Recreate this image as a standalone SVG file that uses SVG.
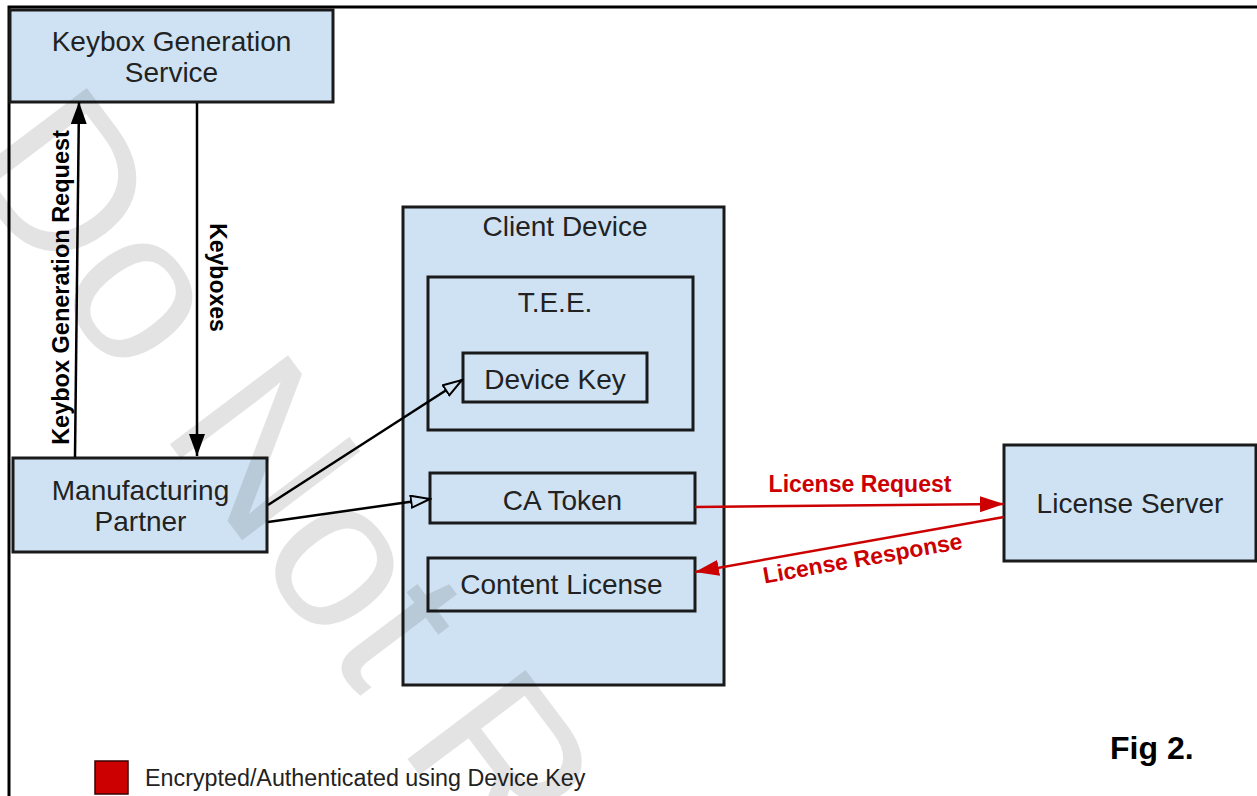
<svg xmlns="http://www.w3.org/2000/svg" width="1257" height="796" viewBox="0 0 1257 796">
<style>
  .box { fill: #cfe2f3; stroke: #1a1a1a; stroke-width: 3; }
  .lbl { font-family: "Liberation Sans", Arial, sans-serif; font-size: 28px; fill: #222; text-anchor: middle; }
  .bold { font-family: "Liberation Sans", Arial, sans-serif; font-weight: bold; text-anchor: middle; }
  .blk { fill: none; stroke: #000; stroke-width: 2.5; }
  .red { fill: none; stroke: #cc0000; stroke-width: 2.5; }
</style>
<defs>
  <marker id="arrowBlack" markerUnits="userSpaceOnUse" markerWidth="22" markerHeight="16" refX="22" refY="8" orient="auto">
    <path d="M0,0 L22,8 L0,16 z" fill="#000"/>
  </marker>
  <marker id="arrowOpen" markerUnits="userSpaceOnUse" markerWidth="22" markerHeight="16" refX="20" refY="7" orient="auto">
    <path d="M1,1 L20,7 L1,13 z" fill="#cfe2f3" stroke="#000" stroke-width="2"/>
  </marker>
  <marker id="arrowRed" markerUnits="userSpaceOnUse" markerWidth="24" markerHeight="16" refX="24" refY="8" orient="auto">
    <path d="M0,0 L24,8 L0,16 z" fill="#cc0000"/>
  </marker>
</defs>
<rect x="0" y="0" width="1257" height="796" fill="#fff"/>
<path d="M9,796 V7 H1257" fill="none" stroke="#000" stroke-width="3"/>

<g id="keybox-generation-service">
  <rect class="box" x="10" y="10" width="323" height="92"/>
  <text class="lbl" x="171.5" y="51">Keybox Generation</text>
  <text class="lbl" x="171.5" y="82">Service</text>
</g>
<g id="manufacturing-partner">
  <rect class="box" x="13" y="458" width="254" height="94"/>
  <text class="lbl" x="140.5" y="500">Manufacturing</text>
  <text class="lbl" x="140.5" y="531">Partner</text>
</g>
<g id="client-device">
  <rect class="box" x="403" y="207" width="321" height="478"/>
  <text class="lbl" x="565" y="236">Client Device</text>
</g>
<g id="tee">
  <rect class="box" x="428" y="277" width="265" height="153"/>
  <text class="lbl" x="555" y="312">T.E.E.</text>
</g>
<g id="device-key">
  <rect class="box" x="463" y="353" width="184" height="49"/>
  <text class="lbl" x="555" y="389">Device Key</text>
</g>
<g id="ca-token">
  <rect class="box" x="430" y="473" width="265" height="50"/>
  <text class="lbl" x="562.5" y="510">CA Token</text>
</g>
<g id="content-license">
  <rect class="box" x="428" y="558" width="267" height="53"/>
  <text class="lbl" x="561.5" y="594">Content License</text>
</g>
<g id="license-server">
  <rect class="box" x="1004" y="445" width="252" height="116"/>
  <text class="lbl" x="1130" y="513">License Server</text>
</g>

<g id="connectors">
  <line class="blk" x1="75" y1="457" x2="79" y2="102" marker-end="url(#arrowBlack)"/>
  <text class="bold" font-size="23.5" fill="#000" transform="translate(69,287.5) rotate(-90)">Keybox Generation Request</text>
  <line class="blk" x1="197" y1="103" x2="197" y2="456" marker-end="url(#arrowBlack)"/>
  <text class="bold" font-size="23" fill="#000" transform="translate(210,277.5) rotate(90)">Keyboxes</text>
  <line class="blk" x1="268" y1="505" x2="462" y2="380" marker-end="url(#arrowOpen)"/>
  <line class="blk" x1="268" y1="522" x2="430" y2="499" marker-end="url(#arrowOpen)"/>
  <line class="red" x1="695" y1="507" x2="1004" y2="504" marker-end="url(#arrowRed)"/>
  <text class="bold" font-size="23" fill="#cc0000" x="860" y="492">License Request</text>
  <line class="red" x1="1004" y1="517" x2="695" y2="572" marker-end="url(#arrowRed)"/>
  <text class="bold" font-size="23" fill="#cc0000" transform="translate(864,566) rotate(-10)">License Response</text>
</g>

<g id="legend">
  <rect x="95" y="761" width="33" height="33" fill="#cc0000" stroke="#3a0000" stroke-width="1.5"/>
  <text x="145" y="786" font-family="Liberation Sans, Arial, sans-serif" font-size="23.3" fill="#222">Encrypted/Authenticated using Device Key</text>
</g>
<text x="1110" y="759" font-family="Liberation Sans, Arial, sans-serif" font-weight="bold" font-size="32" fill="#000">Fig 2.</text>

<text id="watermark" transform="translate(-42,163) rotate(53)" font-family="Liberation Sans, Arial, sans-serif" font-size="215" fill="#000" fill-opacity="0.11">Do Not R</text>
</svg>
